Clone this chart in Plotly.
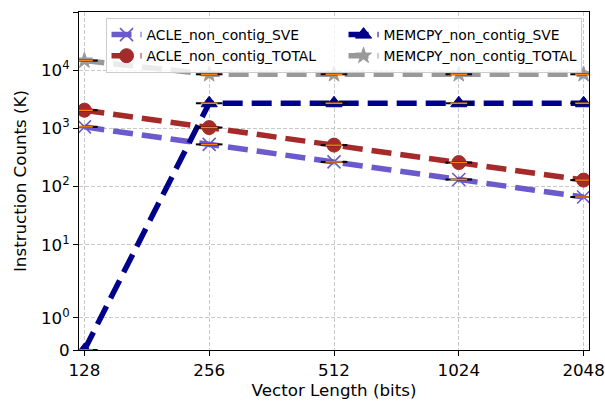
import math
import plotly.graph_objects as go

# ---- data ----
vector_lengths = [128, 256, 512, 1024, 2048]
x_tick_labels = ["128", "256", "512", "1024", "2048"]

acle_sve = [1060, 530, 265, 132, 66]
acle_total = [2050, 1030, 515, 258, 129]
memcpy_sve = [0, 2700, 2700, 2700, 2700]
memcpy_total = [14600, 8500, 8500, 8500, 8500]

y_tick_values = [0, 1, 10, 100, 1000, 10000, 100000]
y_tick_labels = ["0", "10<sup>0</sup>", "10<sup>1</sup>", "10<sup>2</sup>",
                 "10<sup>3</sup>", "10<sup>4</sup>", "10<sup>5</sup>"]

# ---- symlog transform (matplotlib-style, linthresh=2, linscale=1) ----
LINTHRESH = 2.0
LINSCALE_ADJ = 1.0 / (1.0 - 1.0 / 10.0)


def symlog(v):
    if v <= LINTHRESH:
        return v / LINTHRESH * LINSCALE_ADJ
    return LINSCALE_ADJ + math.log10(v / LINTHRESH)


def tr(values):
    return [symlog(v) for v in values]


series = [
    # name, values, color, symbol, size, legendrank
    ("ACLE_non_contig_SVE", acle_sve, "#6A5ACD", "x-thin", 13, 1),
    ("ACLE_non_contig_TOTAL", acle_total, "#A52A2A", "circle", 14, 3),
    ("MEMCPY_non_contig_SVE", memcpy_sve, "#00008B", "triangle-up", 14, 2),
    ("MEMCPY_non_contig_TOTAL", memcpy_total, "#999999", "star", 12, 4),
]

fig = go.Figure()

for name, vals, color, symbol, size, rank in series:
    marker = dict(symbol=symbol, size=size, color=color)
    if symbol == "x-thin":
        marker.update(line=dict(color=color, width=1.6))
    else:
        marker.update(line=dict(color=color, width=1))
    fig.add_trace(go.Scatter(
        x=vector_lengths, y=tr(vals), name=name, mode="lines+markers",
        line=dict(color=color, width=5.5, dash="20px,9px"),
        marker=marker, legendrank=rank,
    ))

# collapsed box-plot marks (black box + orange median) at every point
for name, vals, color, symbol, size, rank in series:
    fig.add_trace(go.Scatter(
        x=vector_lengths, y=tr(vals), mode="markers", showlegend=False,
        hoverinfo="skip",
        marker=dict(symbol="line-ew", size=19, line=dict(color="black", width=2)),
    ))
    fig.add_trace(go.Scatter(
        x=vector_lengths, y=tr(vals), mode="markers", showlegend=False,
        hoverinfo="skip",
        marker=dict(symbol="line-ew", size=12, line=dict(color="#ff7f0e", width=1.6)),
    ))

lx0 = math.log10(128) - 0.013
lx1 = math.log10(2048) + 0.013

font = "DejaVu Sans, sans-serif"

fig.update_layout(
    width=605, height=407,
    margin=dict(l=79, r=16, t=12, b=57, pad=0),
    paper_bgcolor="white", plot_bgcolor="white",
    font=dict(family=font, size=17, color="black"),
    showlegend=True,
    legend=dict(
        orientation="h", x=0.052, y=0.982, xanchor="left", yanchor="top",
        entrywidth=192, entrywidthmode="pixels",
        bgcolor="rgba(255,255,255,0.8)", bordercolor="#cccccc", borderwidth=1,
        font=dict(family=font, size=13.9, color="black"),
        itemwidth=30, tracegroupgap=0,
    ),
    xaxis=dict(
        type="log", range=[lx0, lx1], automargin=False,
        tickvals=vector_lengths, ticktext=x_tick_labels,
        ticks="outside", ticklen=5, tickwidth=1.1, tickcolor="black",
        showline=True, linecolor="black", linewidth=1.1, mirror=True,
        showgrid=True, gridcolor="#c8c8c8", gridwidth=1, griddash="4px,2px",
        zeroline=False,
        title=dict(text="Vector Length (bits)", font=dict(size=16.7), standoff=4),
        tickfont=dict(size=16.7),
    ),
    yaxis=dict(
        range=[0, symlog(100000)], automargin=False,
        tickvals=tr(y_tick_values), ticktext=y_tick_labels,
        ticks="outside", ticklen=5, tickwidth=1.1, tickcolor="black",
        showline=True, linecolor="black", linewidth=1.1, mirror=True,
        showgrid=True, gridcolor="#c8c8c8", gridwidth=1, griddash="4px,2px",
        zeroline=False,
        title=dict(text="Instruction Counts (K)", font=dict(size=16.7), standoff=10),
        tickfont=dict(size=16.7),
    ),
)

fig.write_html("out.html")
